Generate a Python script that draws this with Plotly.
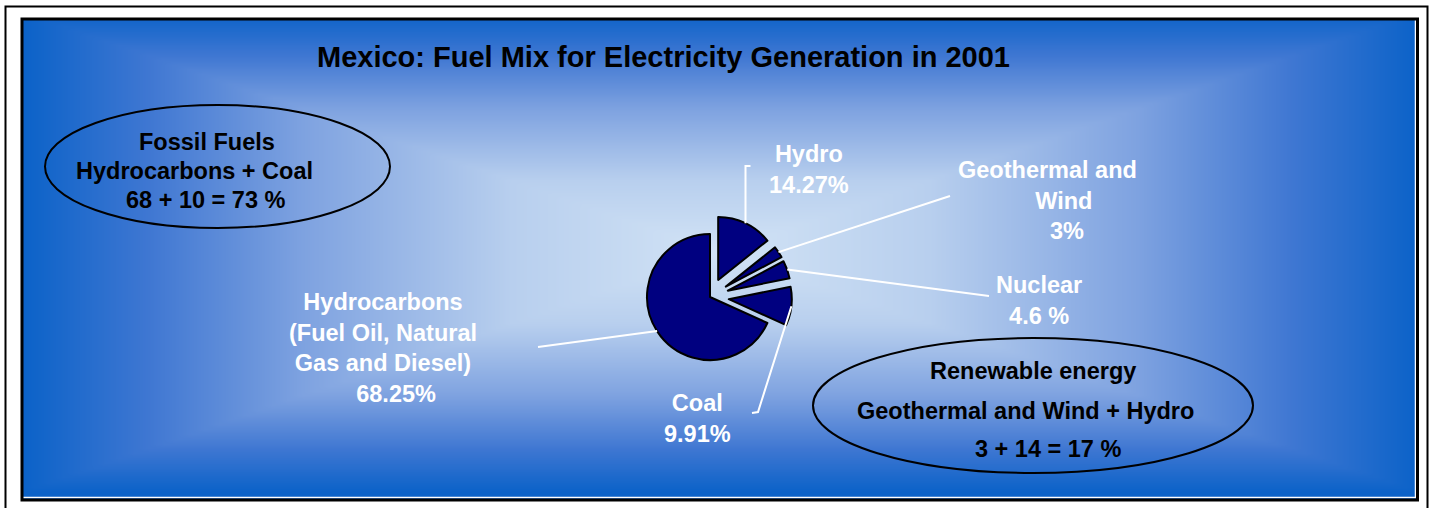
import numpy as np
import plotly.graph_objects as go

W, H = 1434, 508

# ---------------- data ----------------
categories = ["Hydro", "Geothermal and Wind", "Nuclear", "Coal", "Hydrocarbons"]
shares = [14.27, 3, 4.6, 9.91, 68.25]
share_labels = ["14.27%", "3%", "4.6 %", "9.91%", "68.25%"]
label_names = ["Hydro", "Geothermal and<br>\u00a0\u00a0\u00a0\u00a0\u00a0Wind", "Nuclear", "Coal",
               "Hydrocarbons<br>(Fuel Oil, Natural<br>Gas and Diesel)"]
share_prefix = ["", "\u00a0\u00a0\u00a0\u00a0\u00a0\u00a0", "", "", "\u00a0\u00a0\u00a0\u00a0"]

title_text = "Mexico: Fuel Mix for Electricity Generation in 2001"
fossil_lines = ["Fossil Fuels", "Hydrocarbons + Coal", "68 + 10 = 73 %"]
renew_lines = ["Renewable energy", "Geothermal and Wind + Hydro", "3 + 14 = 17 %"]

# ---------------- style / layout constants ----------------
FONT = "Liberation Sans, Arial, sans-serif"
LABEL_SIZE = 23.5
NAVY = "#000080"

PIE_CX, PIE_CY, PIE_R = 710, 297, 63
pulls = [0.3 if c != "Hydrocarbons" else 0.0 for c in categories]
half = PIE_R * (1 + max(pulls))

# label block centres and leader-line outer ends (pixels)
label_pos = {
    "Hydro": (809, 169),
    "Geothermal and Wind": (1047, 200),
    "Nuclear": (1039, 300),
    "Coal": (697, 418),
    "Hydrocarbons": (383, 348),
}
leader_end = {
    "Hydro": [(None, 166), (5, 166)],
    "Geothermal and Wind": [(950, 196)],
    "Nuclear": [(989, 296)],
    "Coal": [(758, 412), (752, 413)],
    "Hydrocarbons": [(538, 347)],
}

fig = go.Figure()

# background gradient (rectangular "from centre" gradient)
gx = np.linspace(24, 1415, 280)
gy = np.linspace(21, 497, 100)
X, Y = np.meshgrid(gx, gy)
bcx, bcy = 720, 252
Z = np.minimum(np.maximum(np.abs(X - bcx) / 697.5, np.abs(Y - bcy) / 240.0), 1.0)
fig.add_trace(go.Heatmap(
    x=gx, y=gy, z=Z, zmin=0, zmax=1, zsmooth="best", showscale=False, hoverinfo="skip",
    colorscale=[[0, "#d2e3f5"], [0.3, "#b8cfee"], [0.6, "#7ea2e0"], [0.82, "#3f77d2"], [1, "#0b62c8"]],
))

# pie
fig.add_trace(go.Pie(
    labels=categories, values=shares, sort=False, direction="clockwise", rotation=0,
    pull=pulls, textinfo="none", hoverinfo="label+value", showlegend=False,
    marker=dict(colors=[NAVY] * len(categories), line=dict(color="#000000", width=2)),
    domain=dict(x=[(PIE_CX - half) / W, (PIE_CX + half) / W],
                y=[1 - (PIE_CY + half) / H, 1 - (PIE_CY - half) / H]),
))

shapes = []
# outer frame and inner panel border
shapes.append(dict(type="rect", x0=5.5, y0=6.5, x1=1427.5, y1=520, line=dict(color="black", width=2),
                   layer="below"))
shapes.append(dict(type="line", x0=23, y0=497.5, x1=1416, y1=497.5, line=dict(color="white", width=1.5)))
shapes.append(dict(type="line", x0=1415.5, y0=20, x1=1415.5, y1=498, line=dict(color="white", width=1.5)))
shapes.append(dict(type="rect", x0=22, y0=19, x1=1417.5, y1=500, line=dict(color="black", width=3)))

# ellipses
shapes.append(dict(type="circle", x0=45, y0=105, x1=390, y1=228, line=dict(color="black", width=2)))
shapes.append(dict(type="circle", x0=813, y0=338, x1=1253, y1=473, line=dict(color="black", width=2)))

# leader lines computed from slice mid-angles
total = sum(shares)
cum = 0.0
for cat, v, p in zip(categories, shares, pulls):
    th = 2 * np.pi * (cum + v / 2) / total
    cum += v
    rr = PIE_R * (1 + p)
    sx = PIE_CX + rr * np.sin(th)
    sy = PIE_CY - rr * np.cos(th)
    path = f"M {sx:.1f} {sy:.1f}"
    px = sx
    for ex, ey in leader_end[cat]:
        if ex is None:
            ex = sx
        elif cat == "Hydro":
            ex = px + ex
        path += f" L {ex:.1f} {ey:.1f}"
        px = ex
    shapes.append(dict(type="path", path=path, line=dict(color="white", width=2)))

annotations = []
annotations.append(dict(x=663, y=57, text=title_text, showarrow=False, xanchor="center", yanchor="middle",
                        font=dict(family=FONT, size=29, color="black", weight="bold")))
for cat, nm, sl, pre in zip(categories, label_names, share_labels, share_prefix):
    x, y = label_pos[cat]
    annotations.append(dict(x=x, y=y, text=f"{nm}<br>{pre}{sl}", showarrow=False, align="center",
                            xanchor="center", yanchor="middle",
                            font=dict(family=FONT, size=LABEL_SIZE, color="white", weight="bold")))
for txt, (x, y) in zip(fossil_lines, [(207, 142), (194, 171), (206, 200)]):
    annotations.append(dict(x=x, y=y, text=txt, showarrow=False, xanchor="center", yanchor="middle",
                            font=dict(family=FONT, size=LABEL_SIZE, color="black", weight="bold")))
for txt, (x, y) in zip(renew_lines, [(1033, 371), (1025, 411), (1048, 449)]):
    annotations.append(dict(x=x, y=y, text=txt, showarrow=False, xanchor="center", yanchor="middle",
                            font=dict(family=FONT, size=LABEL_SIZE, color="black", weight="bold")))

fig.update_layout(
    width=W, height=H, margin=dict(l=0, r=0, t=0, b=0, pad=0),
    paper_bgcolor="white", plot_bgcolor="white",
    xaxis=dict(range=[0, W], visible=False, fixedrange=True),
    yaxis=dict(range=[H, 0], visible=False, fixedrange=True),
    shapes=shapes, annotations=annotations, showlegend=False,
)

fig.write_html("out.html", config={"displayModeBar": False})
